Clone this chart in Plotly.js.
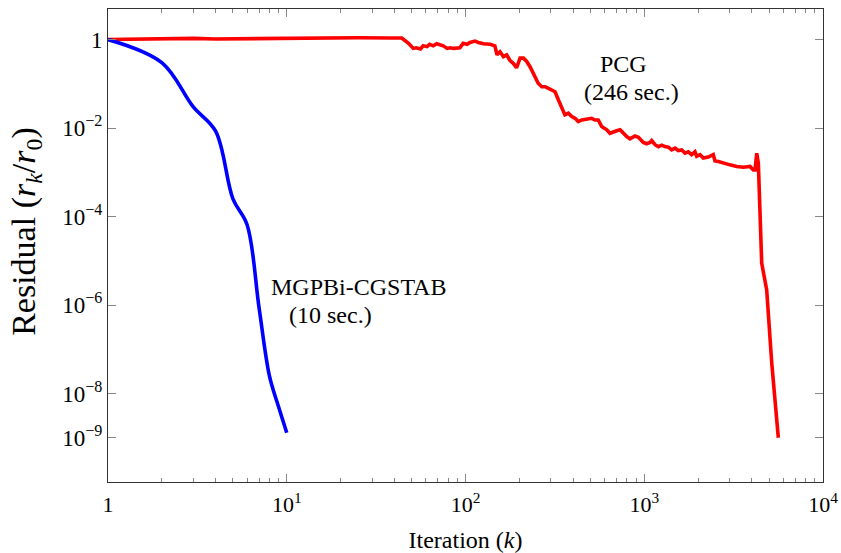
<!DOCTYPE html>
<html>
<head>
<meta charset="utf-8">
<script src="https://cdn.plot.ly/plotly-3.0.1.min.js"></script>
<style>
  html, body { margin: 0; padding: 0; background: #fff; }
  #chart { width: 841px; height: 553px; }
</style>
</head>
<body>
<div id="chart"></div>
<script>
// MGPBi-CGSTAB convergence history (iteration, relative residual)
const mgpIter = [1, 2, 3, 4, 5, 6, 7, 8, 9, 10];
const mgpResidual = [1, 0.30, 0.030, 0.0085, 2.5e-4, 6.5e-5, 8.7e-7, 2.5e-8, 5.0e-9, 1.3e-9];

// PCG convergence history (iteration, relative residual)
const pcgIter = [
  1, 2, 3, 4, 5, 7, 10, 16, 25, 38, 44, 48, 51, 53, 56, 58, 61, 63, 66, 69,
  72, 75, 79, 82, 86, 89, 93, 97, 102, 106, 113, 118, 126, 137, 146, 150, 156, 163, 170, 177,
  185, 193, 202, 211, 220, 230, 245, 255, 267, 279, 291, 303, 317, 331, 345, 360, 376, 393, 410, 428,
  447, 476, 508, 530, 553, 578, 617, 643, 671, 701, 732, 764, 798, 832, 869, 888, 927, 988, 1032, 1077,
  1101, 1149, 1200, 1253, 1307, 1364, 1425, 1487, 1552, 1621, 1691, 1764, 1841, 1922, 1965, 2051, 2140, 2281, 2433, 2488,
  2597, 2768, 3017, 3289, 3584, 3907, 4075, 4167, 4259, 4349, 4540, 4842, 5166, 5625
];
const pcgResidual = [
  1.00, 1.04, 1.06, 1.03, 1.04, 1.08, 1.10, 1.10, 1.10, 1.08, 1.08, 0.82, 0.63, 0.65, 0.61, 0.72, 0.69, 0.78, 0.72, 0.80,
  0.75, 0.72, 0.63, 0.65, 0.63, 0.65, 0.65, 0.82, 0.78, 0.86, 0.92, 0.86, 0.80, 0.78, 0.72, 0.45, 0.53, 0.41, 0.45, 0.34,
  0.29, 0.23, 0.38, 0.38, 0.32, 0.24, 0.145, 0.103, 0.086, 0.086, 0.079, 0.072, 0.066, 0.043, 0.030, 0.0198, 0.0216, 0.0181, 0.0166, 0.0140,
  0.0152, 0.0158, 0.0166, 0.0152, 0.0152, 0.0108, 0.0091, 0.0076, 0.0083, 0.0087, 0.0091, 0.0076, 0.0064, 0.0057, 0.0064, 0.0066, 0.0062, 0.0047, 0.0044, 0.0047,
  0.0052, 0.0042, 0.0038, 0.0041, 0.0038, 0.0037, 0.0032, 0.0035, 0.0031, 0.0032, 0.0027, 0.0029, 0.0025, 0.0029, 0.0023, 0.0025, 0.0021, 0.0022, 0.0025, 0.0018,
  0.00175, 0.0016, 0.00147, 0.00135, 0.0013, 0.00135, 0.00113, 0.00113, 0.0027, 0.0016, 8.9e-6, 2.2e-6, 4.9e-8, 1.0e-9
];

// Axis ticks
const xTickVals = [1, 10, 100, 1000, 10000];
const xTickText = ['1', '10<sup>1</sup>', '10<sup>2</sup>', '10<sup>3</sup>', '10<sup>4</sup>'];
const yTickVals = [1, 1e-2, 1e-4, 1e-6, 1e-8, 1e-9];
const yTickText = ['1', '10<sup>\u22122</sup>', '10<sup>\u22124</sup>', '10<sup>\u22126</sup>', '10<sup>\u22128</sup>', '10<sup>\u22129</sup>'];

// minor ticks at 2..9 of every decade
const xMinor = [];
for (let d = 0; d < 4; d++) {
  for (let m = 2; m <= 9; m++) xMinor.push(m * Math.pow(10, d));
}

const serif = '"Liberation Serif"';
const labelFont = { family: serif, size: 24, color: '#000' };

const traces = [
  {
    x: pcgIter, y: pcgResidual, type: 'scatter', mode: 'lines', name: 'PCG',
    line: { color: '#ff0000', width: 3.6 }
  },
  {
    x: mgpIter, y: mgpResidual, type: 'scatter', mode: 'lines', name: 'MGPBi-CGSTAB',
    line: { color: '#0000ff', width: 3.6, shape: 'spline', smoothing: 1 }
  }
];

const axisCommon = {
  type: 'log',
  showgrid: false,
  zeroline: false,
  showline: true,
  linecolor: '#333',
  linewidth: 1,
  mirror: 'allticks',
  ticks: 'inside',
  ticklen: 8,
  tickwidth: 1,
  tickcolor: '#888',
  tickmode: 'array',
  tickfont: { family: serif, size: 23, color: '#000' }
};

const layout = {
  width: 841,
  height: 553,
  margin: { l: 108, r: 18, t: 9, b: 71 },
  paper_bgcolor: '#fff',
  plot_bgcolor: '#fff',
  showlegend: false,
  font: { family: serif, color: '#000' },
  xaxis: Object.assign({}, axisCommon, {
    range: [0, 4],
    tickvals: xTickVals,
    ticktext: xTickText,
    ticklabelstandoff: 3,
    tickfont: { family: serif, size: 22, color: '#000' },
    minor: { ticks: 'inside', ticklen: 4, tickwidth: 1, tickcolor: '#888', tickmode: 'array', tickvals: xMinor },
    title: { text: 'Iteration (<i>k</i>)', font: { family: serif, size: 24, color: '#000' }, standoff: 14 }
  }),
  yaxis: Object.assign({}, axisCommon, {
    range: [-10, 0.69],
    tickvals: yTickVals,
    ticktext: yTickText
  }),
  annotations: [
    // y-axis label, placed as a rotated annotation
    { text: 'Residual (<i>r<sub>k</sub></i>/<i>r</i><sub>0</sub>)', xref: 'paper', yref: 'paper',
      x: -0.1147, y: 0.531, textangle: -90, showarrow: false, xanchor: 'center', yanchor: 'middle',
      font: { family: serif, size: 34, color: '#000' } },
    { text: 'MGPBi-CGSTAB', xref: 'paper', yref: 'paper', x: 0.3497, y: 0.412, showarrow: false,
      xanchor: 'center', yanchor: 'middle', font: labelFont },
    { text: '(10 sec.)', xref: 'paper', yref: 'paper', x: 0.3105, y: 0.354, showarrow: false,
      xanchor: 'center', yanchor: 'middle', font: labelFont },
    { text: 'PCG', xref: 'paper', yref: 'paper', x: 0.7203, y: 0.884, showarrow: false,
      xanchor: 'center', yanchor: 'middle', font: labelFont },
    { text: '(246 sec.)', xref: 'paper', yref: 'paper', x: 0.7315, y: 0.824, showarrow: false,
      xanchor: 'center', yanchor: 'middle', font: labelFont }
  ]
};

Plotly.newPlot('chart', traces, layout, { staticPlot: true, displayModeBar: false });
</script>
</body>
</html>
